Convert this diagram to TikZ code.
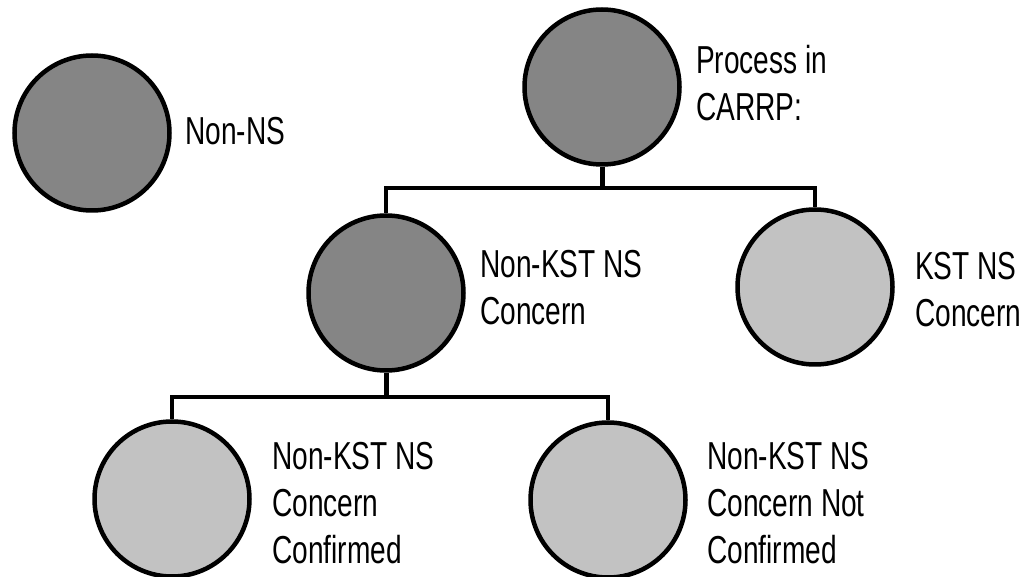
\documentclass[tikz,border=0pt]{standalone}
\usepackage{fontspec}
\newfontfamily\lblfont[FakeStretch=0.72]{Liberation Sans}
\tikzset{
  dark/.style={circle, draw=black, line width=4.5pt, fill=black!48, minimum size=155pt, inner sep=0pt},
  light/.style={circle, draw=black, line width=4.5pt, fill=black!24, minimum size=155pt, inner sep=0pt},
  lbl/.style={anchor=north west, inner sep=0pt, align=left, font=\lblfont\fontsize{39}{47}\selectfont},
  bus/.style={line width=3.2pt, line join=miter},
  stem/.style={line width=5pt},
}
\begin{document}
\begin{tikzpicture}[x=1pt, y=-1pt]
\useasboundingbox (0,0) rectangle (1021,577);
\coordinate (j1) at (602,188);
\coordinate (j2) at (386,397);
\node[dark]  (nonns)   at (92,133)  {};
\node[dark]  (proc)    at (602,87)  {};
\node[dark]  (nkst)    at (386,293) {};
\node[light] (kst)     at (815,287) {};
\node[light] (conf)    at (172,499) {};
\node[light] (notconf) at (608,500) {};
\draw[stem] (proc.south) -- (j1);
\draw[bus] (j1) -| (nkst.north);
\draw[bus] (j1) -| (kst.north);
\draw[stem] (nkst.south) -- (j2);
\draw[bus] (j2) -| (conf.north);
\draw[bus] (j2) -| (notconf.north);
\node[lbl] (lnonns)   at (185,117) {Non-NS};
\node[lbl] (lproc)    at (696,45)  {Process in\\CARRP:};
\node[lbl] (lnkst)    at (480,250) {Non-KST NS\\Concern};
\node[lbl] (lkst)     at (915,252) {KST NS\\Concern};
\node[lbl] (lconf)    at (272,442) {Non-KST NS\\Concern\\Confirmed};
\node[lbl] (lnotconf) at (707,442) {Non-KST NS\\Concern Not\\Confirmed};
\end{tikzpicture}
\end{document}
